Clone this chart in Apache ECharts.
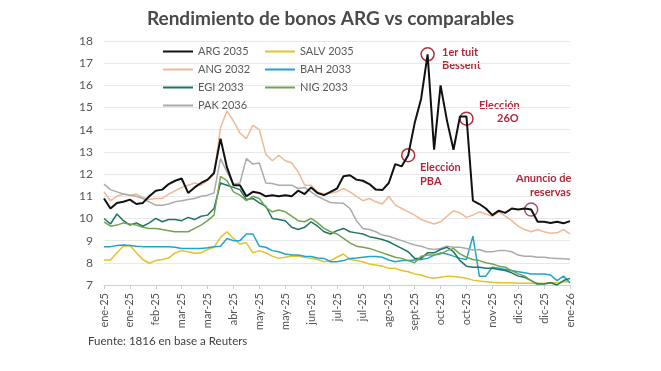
<!DOCTYPE html>
<html><head><meta charset="utf-8">
<script src="https://cdn.jsdelivr.net/npm/echarts@6/dist/echarts.min.js"></script>
<style>html,body{margin:0;padding:0;background:#fff}#c{width:661px;height:371px}</style>
</head><body><div id="c"></div>
<script>
const tickLabels = ['ene-25','ene-25','feb-25','mar-25','mar-25','abr-25','may-25','may-25','jun-25','jul-25','jul-25','ago-25','sept-25','oct-25','oct-25','nov-25','dic-25','dic-25','ene-26'];
const POINTS_PER_TICK = 4;
const categories = [];
for (let i = 0; i < (tickLabels.length - 1) * POINTS_PER_TICK + 1; i++) categories.push(String(i));

const arg2035 = [10.9,10.45,10.7,10.75,10.85,10.65,10.7,11.0,11.25,11.3,11.55,11.7,11.8,11.15,11.4,11.6,11.75,12.05,13.6,12.3,11.5,11.5,11.0,11.2,11.15,11.0,11.05,11.0,11.05,11.0,11.25,11.1,11.4,11.15,11.05,11.2,11.35,11.9,11.95,11.75,11.7,11.55,11.3,11.28,11.6,12.45,12.35,12.85,14.3,15.4,17.4,13.1,16.0,14.4,13.1,14.6,14.6,10.8,10.65,10.45,10.15,10.35,10.25,10.45,10.4,10.45,10.4,9.85,9.85,9.8,9.85,9.78,9.88];
const salv2035 = [8.13,8.13,8.45,8.75,8.78,8.45,8.15,7.98,8.1,8.15,8.22,8.45,8.55,8.5,8.43,8.45,8.6,8.7,9.15,9.4,9.1,8.85,8.9,8.45,8.55,8.45,8.3,8.2,8.25,8.3,8.3,8.25,8.2,8.15,8.05,8.1,8.25,8.4,8.15,8.1,8.05,7.95,7.9,7.85,7.75,7.75,7.65,7.6,7.5,7.45,7.35,7.3,7.35,7.4,7.38,7.35,7.3,7.22,7.18,7.15,7.12,7.1,7.1,7.1,7.08,7.08,7.08,7.08,7.08,7.1,7.1,7.15,7.15];
const ang2032 = [11.2,10.8,11.0,11.1,11.05,11.1,10.95,10.85,10.9,10.9,11.1,11.25,11.4,11.5,11.6,11.5,11.7,12.0,14.1,14.85,14.4,13.85,13.6,14.2,14.0,12.9,12.6,12.85,12.6,12.5,12.1,11.5,11.5,11.2,11.1,11.15,11.2,11.35,11.2,11.0,10.8,10.9,10.75,10.65,11.0,10.6,10.45,10.3,10.15,9.95,9.85,9.75,9.85,10.1,10.35,10.25,10.05,10.15,10.3,10.2,10.1,10.3,10.1,9.9,9.65,9.5,9.4,9.5,9.4,9.33,9.35,9.5,9.3];
const bah2033 = [8.73,8.73,8.78,8.8,8.78,8.75,8.73,8.73,8.72,8.72,8.72,8.7,8.65,8.65,8.65,8.65,8.68,8.72,8.75,9.1,9.0,9.0,9.3,9.3,8.75,8.7,8.55,8.5,8.4,8.35,8.35,8.3,8.28,8.22,8.2,8.05,8.05,8.1,8.2,8.22,8.25,8.28,8.28,8.25,8.13,8.05,8.1,8.1,8.13,8.15,8.2,8.35,8.45,8.4,8.3,8.2,8.15,9.2,7.4,7.4,7.8,7.75,7.7,7.65,7.6,7.55,7.5,7.5,7.5,7.45,7.2,7.4,7.1];
const egi2033 = [10.0,9.75,10.2,9.9,9.7,9.8,9.65,9.8,10.0,9.85,9.95,9.95,9.9,10.05,9.95,10.1,10.15,10.45,11.6,11.5,11.4,11.3,10.85,10.9,10.7,10.55,10.0,9.95,9.9,9.6,9.5,9.6,9.85,9.65,9.4,9.3,9.45,9.55,9.4,9.35,9.3,9.18,9.12,9.05,8.95,8.8,8.65,8.5,8.2,8.2,8.45,8.45,8.6,8.7,8.5,8.1,7.85,7.8,7.8,7.75,7.75,7.7,7.65,7.55,7.4,7.35,7.2,7.05,7.05,7.1,7.0,7.2,7.3];
const nig2033 = [9.85,9.65,9.7,9.8,9.75,9.7,9.6,9.55,9.55,9.5,9.45,9.4,9.4,9.4,9.55,9.7,9.9,10.15,11.9,11.7,11.2,11.05,10.8,11.0,10.9,10.5,10.3,10.38,10.3,10.1,9.9,9.85,10.0,9.8,9.55,9.4,9.3,9.1,8.9,8.75,8.7,8.65,8.55,8.45,8.35,8.25,8.2,8.1,8.0,8.3,8.35,8.35,8.4,8.55,8.65,8.4,8.25,8.15,8.1,8.0,7.95,7.85,7.8,7.65,7.5,7.4,7.2,7.0,null,null,null,null,null];
const pak2036 = [11.55,11.3,11.2,11.1,11.05,11.0,10.9,10.75,10.6,10.6,10.65,10.75,10.8,10.85,10.9,11.0,11.05,11.15,12.7,12.1,11.55,11.6,12.7,12.45,12.5,11.6,11.58,11.5,11.5,11.5,11.35,11.4,11.2,11.0,10.85,10.72,10.7,10.68,10.45,9.9,9.55,9.5,9.4,9.25,9.2,9.1,9.0,8.9,8.8,8.75,8.65,8.6,8.65,8.75,8.7,8.7,8.65,8.58,8.6,8.5,8.5,8.55,8.55,8.5,8.35,8.3,8.3,8.25,8.25,8.22,8.2,8.18,8.16];

const FONT = 'Lato, "Open Sans", sans-serif';
const annColor = '#b0283a';

function line(name, data, color, width, z) {
  return { name, type: 'line', data, symbol: 'none', showSymbol: false, smooth: false,
    lineStyle: { color, width }, itemStyle: { color }, z: z || 2, connectNulls: false };
}

const argSeries = line('ARG 2035', arg2035, '#111111', 2, 10);
argSeries.markPoint = {
  symbol: 'circle', symbolSize: 13, silent: true,
  label: { show: false },
  itemStyle: { color: 'rgba(0,0,0,0)', borderColor: '#b5303a', borderWidth: 1.5 },
  data: [
    { coord: [47, 12.85] },
    { coord: [50, 17.4] },
    { coord: [56, 14.5] },
    { coord: [66, 10.4], itemStyle: { color: 'rgba(0,0,0,0)', borderColor: '#9a5a72', borderWidth: 1.5 } }
  ]
};

const chart = echarts.init(document.getElementById('c'));
chart.setOption({
  animation: false,
  backgroundColor: '#ffffff',
  title: { text: 'Rendimiento de bonos ARG vs comparables', left: 'center', top: 4,
    textStyle: { fontFamily: FONT, fontWeight: 'bold', fontSize: 19, color: '#4a4a4a' } },
  grid: { left: 104, right: 91, top: 41, bottom: 86 },
  legend: [
    { orient: 'vertical', left: 158, top: 40, itemWidth: 30, itemHeight: 2, itemGap: 5, icon: 'rect',
      data: ['ARG 2035', 'ANG 2032', 'EGI 2033', 'PAK 2036'],
      textStyle: { fontFamily: FONT, fontSize: 11, color: '#5a5a5a', lineHeight: 13 } },
    { orient: 'vertical', left: 260, top: 40, itemWidth: 30, itemHeight: 2, itemGap: 5, icon: 'rect',
      data: ['SALV 2035', 'BAH 2033', 'NIG 2033'],
      textStyle: { fontFamily: FONT, fontSize: 11, color: '#5a5a5a', lineHeight: 13 } }
  ],
  xAxis: {
    type: 'category', data: categories, boundaryGap: false,
    axisLine: { lineStyle: { color: '#cfcfcf' } },
    axisTick: { interval: POINTS_PER_TICK - 1, lineStyle: { color: '#cfcfcf' }, length: 4 },
    axisLabel: { interval: POINTS_PER_TICK - 1, rotate: 90, fontFamily: FONT, fontSize: 11, color: '#555',
      formatter: (v, idx) => tickLabels[Math.round(idx / POINTS_PER_TICK)] },
    splitLine: { show: false }
  },
  yAxis: {
    type: 'value', min: 7, max: 18, interval: 1,
    axisLine: { show: false }, axisTick: { show: false },
    axisLabel: { fontFamily: FONT, fontSize: 12, color: '#555', margin: 11 },
    splitLine: { lineStyle: { color: '#e8e8e8', width: 1 } }
  },
  series: [
    line('SALV 2035', salv2035, '#e5c12a', 1.5, 3),
    line('ANG 2032', ang2032, '#efb996', 1.5, 4),
    line('BAH 2033', bah2033, '#22a3c9', 1.5, 5),
    line('EGI 2033', egi2033, '#1f7564', 1.5, 6),
    line('NIG 2033', nig2033, '#74a350', 1.5, 6),
    line('PAK 2036', pak2036, '#ababab', 1.5, 5),
    argSeries
  ],
  graphic: [
    { type: 'text', left: 442, top: 46, style: { text: '1er tuit\nBessent', fill: annColor, font: 'bold 11px ' + FONT, lineHeight: 13 } },
    { type: 'text', left: 479, top: 100, style: { text: 'Elección', fill: annColor, font: 'bold 11px ' + FONT } },
    { type: 'text', left: 497, top: 113, style: { text: '26O', fill: annColor, font: 'bold 11px ' + FONT } },
    { type: 'text', left: 420, top: 160, style: { text: 'Elección\nPBA', fill: annColor, font: 'bold 11px ' + FONT, lineHeight: 14 } },
    { type: 'text', left: 516, top: 173, style: { text: 'Anuncio de', fill: annColor, font: 'bold 11px ' + FONT } },
    { type: 'text', left: 530, top: 187, style: { text: 'reservas', fill: annColor, font: 'bold 11px ' + FONT } },
    { type: 'text', left: 88, top: 335, style: { text: 'Fuente: 1816 en base a Reuters', fill: '#404040', font: '11.5px ' + FONT } }
  ]
});
</script>
</body></html>
